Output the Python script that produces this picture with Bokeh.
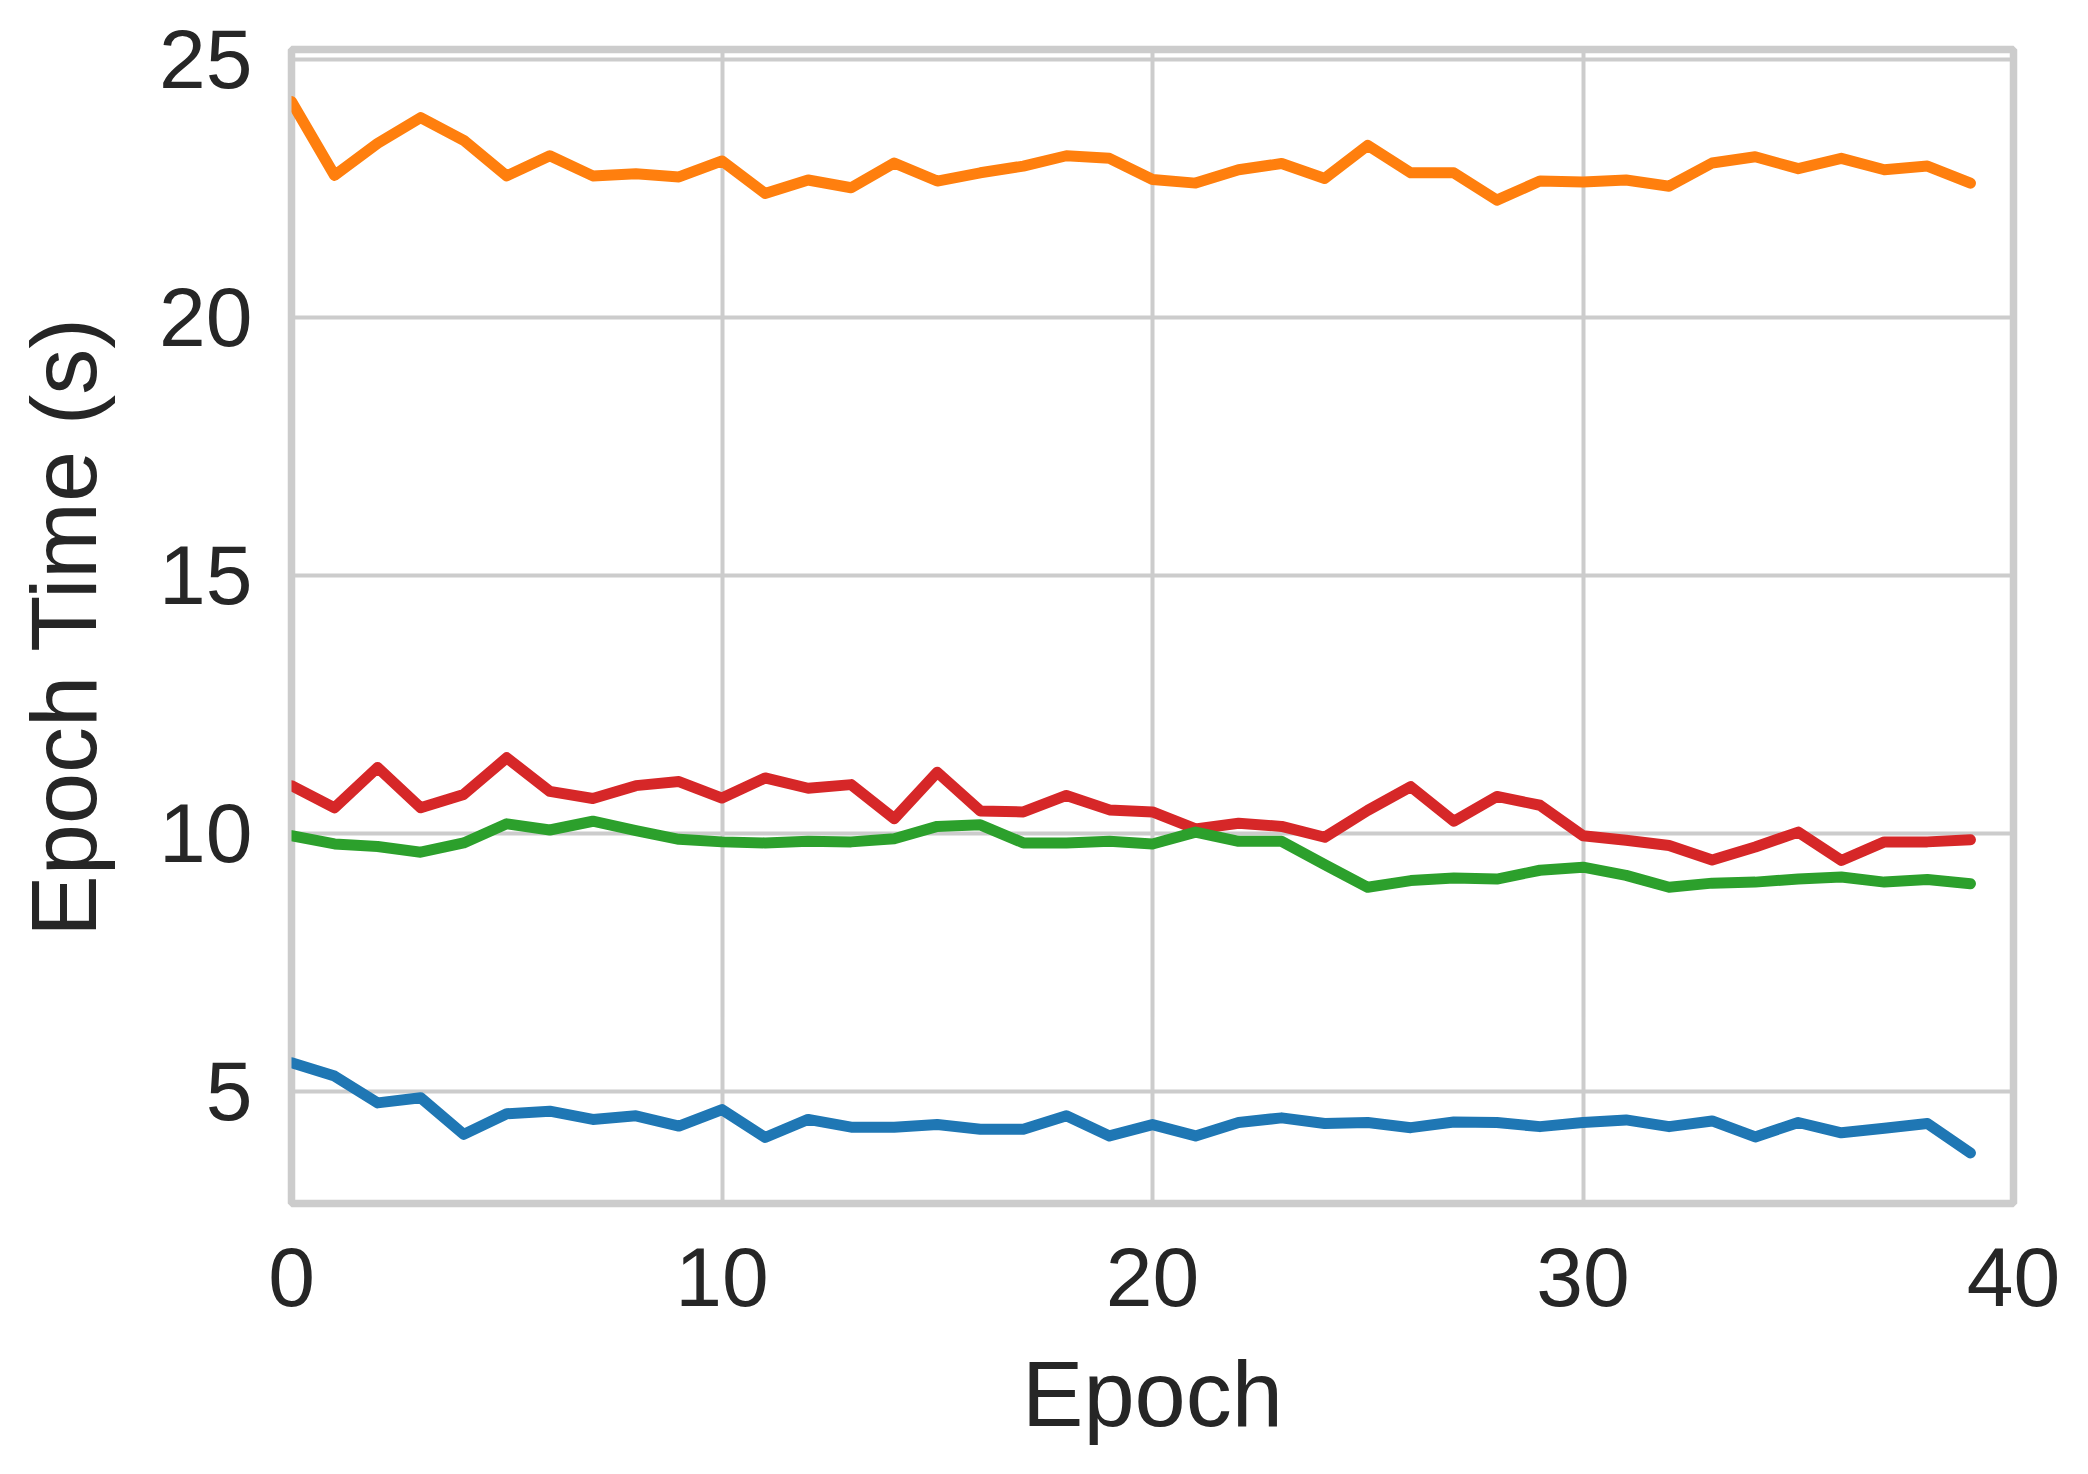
from bokeh.plotting import figure
from bokeh.models import Range1d, FixedTicker
from bokeh.embed import file_html
from bokeh.resources import INLINE

epochs = list(range(40))

series_blue = [5.55, 5.29, 4.77, 4.87, 4.16, 4.56, 4.61, 4.45, 4.52, 4.32,
               4.64, 4.10, 4.45, 4.30, 4.30, 4.35, 4.26, 4.26, 4.52, 4.13,
               4.35, 4.13, 4.39, 4.48, 4.37, 4.39, 4.29, 4.40, 4.39, 4.31,
               4.39, 4.44, 4.31, 4.42, 4.11, 4.39, 4.19, 4.28, 4.37, 3.80]

series_orange = [24.18, 22.75, 23.37, 23.87, 23.43, 22.74, 23.13, 22.74, 22.78, 22.72,
                 23.03, 22.40, 22.66, 22.51, 22.99, 22.64, 22.80, 22.93, 23.13, 23.08,
                 22.67, 22.60, 22.86, 22.98, 22.69, 23.33, 22.80, 22.80, 22.27, 22.64,
                 22.62, 22.66, 22.54, 22.99, 23.11, 22.88, 23.08, 22.86, 22.93, 22.60]

series_red = [10.92, 10.49, 11.27, 10.49, 10.75, 11.46, 10.81, 10.67, 10.92, 11.00,
              10.68, 11.07, 10.87, 10.94, 10.28, 11.18, 10.43, 10.41, 10.73, 10.45,
              10.41, 10.08, 10.19, 10.13, 9.92, 10.44, 10.90, 10.23, 10.71, 10.54,
              9.95, 9.86, 9.76, 9.48, 9.73, 10.02, 9.47, 9.83, 9.83, 9.87]

series_green = [9.95, 9.79, 9.74, 9.63, 9.81, 10.18, 10.06, 10.23, 10.05, 9.88,
                9.83, 9.81, 9.84, 9.83, 9.89, 10.13, 10.16, 9.81, 9.81, 9.84,
                9.79, 10.02, 9.84, 9.84, 9.39, 8.95, 9.08, 9.13, 9.11, 9.28,
                9.34, 9.18, 8.95, 9.03, 9.05, 9.11, 9.15, 9.05, 9.10, 9.02]

x_ticks = [0, 10, 20, 30, 40]
y_ticks = [5, 10, 15, 20, 25]
x_label = "Epoch"
y_label = "Epoch Time (s)"

FONT = "Liberation Sans"
TXT = "#262626"
GRID = "#cccccc"

p = figure(
    frame_width=1722, frame_height=1154,
    x_range=Range1d(0, 40), y_range=Range1d(2.82, 25.19),
    output_backend="svg", toolbar_location=None,
    min_border_left=291, min_border_right=59,
    min_border_top=49, min_border_bottom=255,
)
p.background_fill_color = "white"
p.border_fill_color = "white"
p.outline_line_color = GRID
p.outline_line_width = 7.5

for ax, ticks in ((p.xaxis, x_ticks), (p.yaxis, y_ticks)):
    ax.ticker = FixedTicker(ticks=ticks)
    ax.axis_line_color = None
    ax.major_tick_line_color = None
    ax.minor_tick_line_color = None
    ax.major_tick_out = 0
    ax.major_tick_in = 0
    ax.major_label_text_font = FONT
    ax.major_label_text_font_size = "84px"
    ax.major_label_text_color = TXT
    ax.axis_label_text_font = FONT
    ax.axis_label_text_font_size = "92px"
    ax.axis_label_text_font_style = "normal"
    ax.axis_label_text_color = TXT

p.xaxis.axis_label = x_label
p.yaxis.axis_label = y_label
p.yaxis.major_label_standoff = 39
p.xaxis.major_label_standoff = 44
p.yaxis.axis_label_standoff = 41
p.xaxis.axis_label_standoff = 34

p.xgrid.ticker = FixedTicker(ticks=x_ticks)
p.ygrid.ticker = FixedTicker(ticks=y_ticks)
for g in (p.xgrid, p.ygrid):
    g.grid_line_color = GRID
    g.grid_line_width = 4

for ys, col in ((series_blue, "#1f77b4"), (series_orange, "#ff7f0e"),
                (series_red, "#d62728"), (series_green, "#2ca02c")):
    p.line(epochs, ys, line_color=col, line_width=11,
           line_cap="round", line_join="round")

open("out.html", "w").write(file_html(p, INLINE))
